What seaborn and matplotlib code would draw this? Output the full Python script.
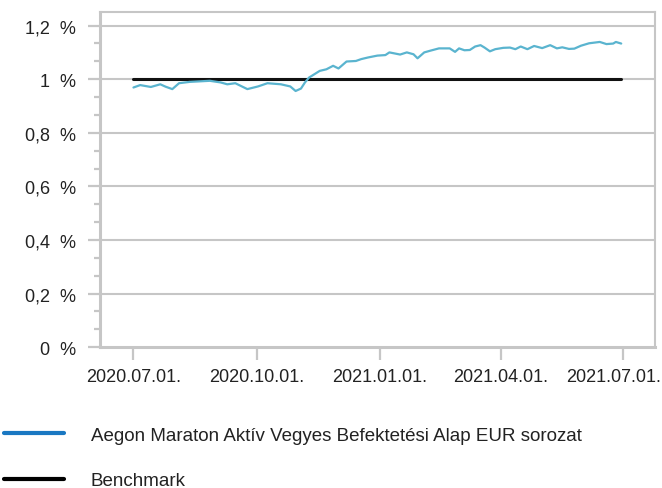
import pandas as pd
import matplotlib.pyplot as plt
import matplotlib.ticker as mticker
import matplotlib.transforms as mtrans
from matplotlib.lines import Line2D
import seaborn as sns

sns.set_style("white")
plt.rcParams["font.family"] = ["Liberation Sans", "DejaVu Sans"]

# fund series (value in %)
fund_dates = [
    "2020-07-01", "2020-07-06", "2020-07-14", "2020-07-21", "2020-07-25", "2020-07-30",
    "2020-08-04", "2020-08-12", "2020-08-27", "2020-09-04", "2020-09-09", "2020-09-15",
    "2020-09-24", "2020-10-02", "2020-10-09", "2020-10-19", "2020-10-26", "2020-10-30",
    "2020-11-03", "2020-11-06", "2020-11-09", "2020-11-17", "2020-11-22", "2020-11-27",
    "2020-12-01", "2020-12-07", "2020-12-14", "2020-12-18", "2020-12-23", "2020-12-30",
    "2021-01-05", "2021-01-08", "2021-01-16", "2021-01-21", "2021-01-26", "2021-01-29",
    "2021-02-03", "2021-02-08", "2021-02-14", "2021-02-22", "2021-02-26", "2021-03-01",
    "2021-03-05", "2021-03-09", "2021-03-13", "2021-03-17", "2021-03-20", "2021-03-24",
    "2021-03-28", "2021-04-03", "2021-04-08", "2021-04-12", "2021-04-16", "2021-04-21",
    "2021-04-26", "2021-05-02", "2021-05-08", "2021-05-13", "2021-05-17", "2021-05-22",
    "2021-05-26", "2021-05-31", "2021-06-06", "2021-06-14", "2021-06-19", "2021-06-24",
    "2021-06-26", "2021-06-30",
]
fund_values = [
    0.969, 0.978, 0.971, 0.981, 0.972, 0.963,
    0.985, 0.990, 0.994, 0.988, 0.981, 0.985,
    0.963, 0.973, 0.985, 0.981, 0.973, 0.956,
    0.965, 0.988, 1.006, 1.031, 1.037, 1.050,
    1.040, 1.066, 1.068, 1.075, 1.081, 1.088,
    1.090, 1.100, 1.092, 1.100, 1.093, 1.078,
    1.100, 1.107, 1.115, 1.115, 1.102, 1.115,
    1.108, 1.109, 1.122, 1.127, 1.118, 1.104,
    1.112, 1.117, 1.118, 1.112, 1.122, 1.112,
    1.124, 1.116, 1.127, 1.115, 1.119, 1.113,
    1.114, 1.125, 1.134, 1.139, 1.131, 1.133,
    1.139, 1.133,
]
bench_dates = ["2020-07-01", "2021-06-30"]
bench_values = [1.0, 1.0]

x_ticks = ["2020-07-01", "2020-10-01", "2021-01-01", "2021-04-01", "2021-07-01"]
x_labels = ["2020.07.01.", "2020.10.01.", "2021.01.01.", "2021.04.01.", "2021.07.01."]
y_ticks = [0, 0.2, 0.4, 0.6, 0.8, 1.0, 1.2]
y_labels = ["0  %", "0,2  %", "0,4  %", "0,6  %", "0,8  %", "1  %", "1,2  %"]

fund_name = "Aegon Maraton Aktív Vegyes Befektetési Alap EUR sorozat"
bench_name = "Benchmark"

fund = pd.DataFrame({"date": pd.to_datetime(fund_dates), "value": fund_values})
bench = pd.DataFrame({"date": pd.to_datetime(bench_dates), "value": bench_values})

grey = "#c6c6c6"
fig = plt.figure(figsize=(6.62, 4.89), dpi=100)
ax = fig.add_axes([0.151, 0.288, 0.838, 0.685])

for y in y_ticks[1:]:
    ax.axhline(y, color=grey, lw=1.5, zorder=0)

sns.lineplot(data=bench, x="date", y="value", ax=ax, color="#111111", lw=2.2)
sns.lineplot(data=fund, x="date", y="value", ax=ax, color="#5ab4cf", lw=1.6)

ax.set_xlim(pd.Timestamp("2020-06-06"), pd.Timestamp("2021-07-25"))
ax.set_ylim(0, 1.25)
ax.set_xticks(pd.to_datetime(x_ticks))
ax.set_xticklabels(x_labels)
ax.set_yticks(y_ticks)
ax.set_yticklabels(y_labels)
ax.yaxis.set_minor_locator(mticker.MultipleLocator(0.2 / 3))
ax.set_xlabel("")
ax.set_ylabel("")

for s in ax.spines.values():
    s.set_color(grey)
    s.set_linewidth(1.5)
ax.spines["left"].set_linewidth(2.2)
ax.spines["bottom"].set_linewidth(2.2)

ax.tick_params(axis="both", which="major", length=9, width=1.6, color=grey,
               labelsize=13, labelcolor="#222222", bottom=True, left=True)
ax.tick_params(axis="y", which="minor", length=4.5, width=1.6, color=grey, left=True)
ax.tick_params(axis="x", which="major", pad=6)
ax.tick_params(axis="y", which="major", pad=8)

# last date label is pushed left so it stays inside the figure
last = ax.get_xticklabels()[-1]
last.set_transform(last.get_transform()
                   + mtrans.ScaledTranslation(-9 / 100, 0, fig.dpi_scale_trans))

handles = [Line2D([], [], color="#1a78c2", lw=3),
           Line2D([], [], color="black", lw=3)]
fig.legend(handles, [fund_name, bench_name], loc="upper left",
           bbox_to_anchor=(0.0, 0.133), frameon=False, fontsize=13.5,
           handlelength=3.2, handletextpad=1.45, labelspacing=1.5,
           borderaxespad=0, borderpad=0.2, labelcolor="#222222")

fig.savefig("out.png", dpi=100)
